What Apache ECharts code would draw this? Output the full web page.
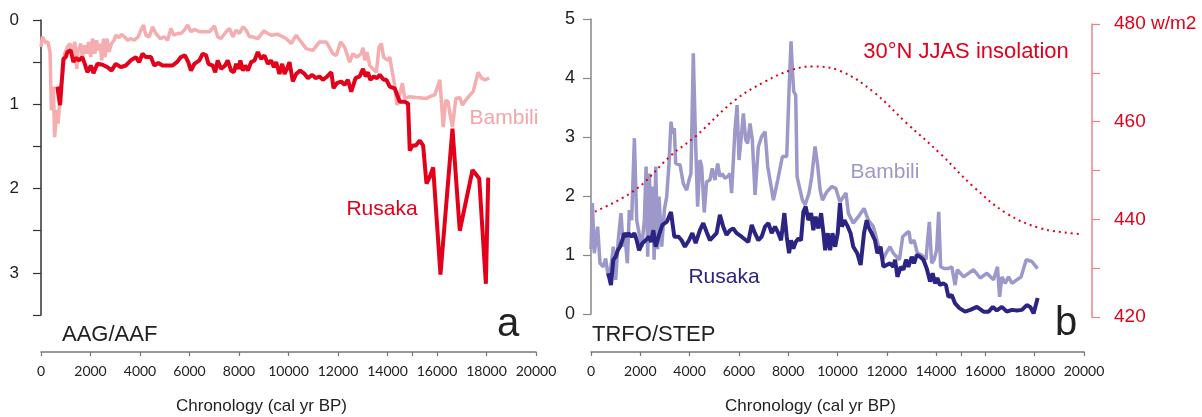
<!DOCTYPE html>
<html>
<head>
<meta charset="utf-8">
<script src="https://cdn.jsdelivr.net/npm/echarts@6/dist/echarts.min.js"></script>
<style>
    html, body { margin: 0; padding: 0; background: #fff; }
    #chart { width: 1202px; height: 417px; }
</style>
</head>
<body>
<div id="chart"></div>
<script>
// panel a: AAG/AAF (inverted axis)
var bambiliAYears = [0, 55, 190, 280, 365, 420, 500, 550, 635, 690, 800, 865, 960, 1065, 1175, 1270, 1365, 1445, 1500, 1605, 1670, 1770, 1850, 1920, 2010, 2080, 2175, 2240, 2320, 2390, 2455, 2525, 2590, 2660, 2750, 2845, 2955, 3020, 3155, 3250, 3380, 3500, 3630, 3765, 3925, 4035, 4145, 4235, 4370, 4510, 4640, 4820, 4980, 5115, 5250, 5360, 5520, 5655, 5790, 5925, 6060, 6195, 6400, 6600, 6805, 7005, 7140, 7275, 7480, 7615, 7750, 7885, 8020, 8155, 8290, 8425, 8560, 8760, 9005, 9165, 9300, 9570, 9905, 10110, 10310, 10510, 10715, 10985, 11255, 11525, 11795, 11930, 12105, 12265, 12470, 12605, 12765, 12940, 13010, 13090, 13170, 13280, 13415, 13550, 13660, 13750, 13845, 13930, 14020, 14090, 14195, 14290, 14385, 14465, 14520, 14600, 14695, 14900, 15170, 15575, 15775, 15910, 16115, 16250, 16355, 16450, 16520, 16625, 16760, 16920, 17030, 17165, 17330, 17460, 17665, 17800, 17935, 18110];
var bambiliAValues = [0.32, 0.20, 0.27, 0.26, 0.38, 1.07, 0.79, 1.39, 1.07, 1.23, 0.79, 0.67, 0.40, 0.32, 0.28, 0.42, 0.26, 0.58, 0.36, 0.28, 0.44, 0.30, 0.40, 0.26, 0.44, 0.22, 0.40, 0.24, 0.36, 0.28, 0.48, 0.22, 0.44, 0.22, 0.38, 0.28, 0.24, 0.18, 0.21, 0.17, 0.20, 0.24, 0.22, 0.24, 0.20, 0.12, 0.06, 0.18, 0.20, 0.08, 0.16, 0.22, 0.20, 0.24, 0.10, 0.18, 0.16, 0.16, 0.12, 0.06, 0.14, 0.11, 0.14, 0.14, 0.14, 0.07, 0.20, 0.22, 0.14, 0.10, 0.20, 0.12, 0.16, 0.08, 0.12, 0.20, 0.20, 0.22, 0.13, 0.16, 0.18, 0.17, 0.22, 0.28, 0.18, 0.26, 0.34, 0.36, 0.26, 0.26, 0.40, 0.42, 0.26, 0.32, 0.50, 0.40, 0.44, 0.40, 0.33, 0.48, 0.38, 0.54, 0.58, 0.62, 0.32, 0.28, 0.44, 0.46, 0.48, 0.44, 0.62, 0.77, 1.01, 0.99, 0.85, 0.75, 0.93, 0.91, 0.92, 0.93, 0.90, 0.89, 0.71, 1.27, 0.95, 0.97, 1.11, 1.27, 0.93, 0.92, 1.01, 0.95, 0.89, 0.85, 0.62, 0.69, 0.71, 0.69];

var rusakaAYears = [660, 770, 905, 1000, 1065, 1200, 1310, 1400, 1540, 1670, 1770, 1875, 2010, 2120, 2280, 2485, 2690, 2845, 3020, 3225, 3425, 3630, 3830, 3965, 4100, 4235, 4440, 4575, 4740, 4910, 5115, 5315, 5490, 5655, 5815, 5950, 6060, 6195, 6400, 6535, 6670, 6765, 6940, 7040, 7140, 7275, 7440, 7545, 7680, 7790, 7885, 7980, 8055, 8155, 8250, 8360, 8490, 8625, 8760, 8895, 9030, 9165, 9300, 9410, 9500, 9635, 9745, 9840, 9935, 10040, 10175, 10310, 10470, 10650, 10785, 10960, 11095, 11255, 11390, 11565, 11730, 11820, 11955, 12130, 12265, 12400, 12535, 12710, 12875, 13010, 13115, 13210, 13305, 13440, 13575, 13685, 13845, 13955, 14090, 14290, 14495, 14695, 14830, 14900, 15010, 15145, 15305, 15440, 15575, 15710, 15845, 16140, 16625, 16920, 17435, 17705, 17975, 18070];
var rusakaAValues = [0.79, 1.01, 0.46, 0.44, 0.38, 0.36, 0.50, 0.45, 0.48, 0.44, 0.52, 0.62, 0.54, 0.63, 0.52, 0.53, 0.56, 0.60, 0.52, 0.56, 0.54, 0.48, 0.44, 0.50, 0.40, 0.44, 0.44, 0.54, 0.51, 0.54, 0.54, 0.54, 0.50, 0.44, 0.42, 0.50, 0.60, 0.52, 0.48, 0.40, 0.42, 0.52, 0.54, 0.62, 0.48, 0.58, 0.54, 0.48, 0.60, 0.62, 0.52, 0.58, 0.48, 0.60, 0.54, 0.60, 0.50, 0.48, 0.38, 0.46, 0.42, 0.52, 0.48, 0.56, 0.50, 0.64, 0.52, 0.64, 0.58, 0.50, 0.73, 0.64, 0.60, 0.64, 0.69, 0.65, 0.69, 0.67, 0.71, 0.67, 0.62, 0.81, 0.75, 0.73, 0.77, 0.71, 0.85, 0.69, 0.67, 0.58, 0.67, 0.62, 0.71, 0.67, 0.69, 0.65, 0.71, 0.71, 0.79, 0.81, 0.97, 0.97, 0.99, 1.55, 1.49, 1.49, 1.43, 1.49, 1.94, 1.86, 1.75, 3.02, 1.29, 2.50, 1.78, 1.88, 3.13, 1.87];

// panel b: TRFO/STEP
var bambiliBYears = [0, 55, 135, 270, 365, 500, 595, 700, 810, 905, 1000, 1105, 1215, 1310, 1380, 1475, 1555, 1650, 1760, 1855, 1950, 2060, 2165, 2235, 2300, 2370, 2435, 2505, 2560, 2625, 2705, 2760, 2870, 2975, 3070, 3165, 3245, 3315, 3380, 3435, 3610, 3745, 3880, 3975, 4055, 4150, 4245, 4325, 4420, 4490, 4595, 4690, 4825, 4920, 5030, 5140, 5230, 5325, 5435, 5545, 5640, 5705, 5840, 5925, 6005, 6085, 6180, 6275, 6355, 6450, 6545, 6655, 6790, 6925, 7060, 7170, 7400, 7575, 7765, 7940, 8035, 8115, 8170, 8225, 8305, 8360, 8440, 8575, 8685, 8845, 8955, 9090, 9200, 9295, 9390, 9565, 9770, 9930, 10100, 10345, 10440, 10640, 10845, 11075, 11250, 11455, 11565, 11700, 11835, 11970, 12130, 12265, 12400, 12510, 12645, 12805, 12900, 12970, 13105, 13240, 13415, 13590, 13645, 13725, 13820, 13915, 14020, 14105, 14185, 14320, 14500, 14635, 14770, 14860, 15115, 15520, 15790, 16060, 16330, 16490, 16575, 16670, 16800, 16940, 17075, 17280, 17450, 17655, 17885, 18115];
var bambiliBValues = [1.10, 1.88, 1.03, 1.48, 0.86, 0.80, 0.94, 0.63, 0.80, 1.14, 0.58, 1.25, 1.71, 1.14, 1.31, 0.86, 1.76, 1.59, 2.98, 1.59, 1.37, 1.14, 1.59, 2.50, 0.97, 2.38, 1.31, 2.16, 0.92, 2.50, 1.10, 1.99, 1.14, 1.76, 1.99, 2.55, 3.26, 3.06, 3.15, 2.55, 2.53, 2.21, 2.10, 2.27, 2.38, 4.42, 2.89, 1.82, 2.61, 2.50, 1.72, 2.24, 2.27, 2.47, 2.27, 2.55, 2.33, 2.38, 2.30, 2.33, 2.38, 2.05, 3.12, 3.54, 2.61, 2.95, 3.40, 2.95, 2.89, 3.23, 2.95, 2.02, 2.84, 3.01, 3.09, 2.50, 1.93, 2.27, 2.67, 2.67, 3.80, 4.62, 4.14, 3.77, 3.71, 2.33, 2.30, 1.93, 1.85, 2.05, 2.33, 2.84, 2.50, 2.10, 1.93, 2.07, 2.16, 2.13, 1.90, 2.05, 1.71, 1.54, 1.65, 1.79, 1.59, 1.48, 1.31, 1.08, 0.92, 1.03, 1.14, 1.03, 0.97, 0.92, 1.31, 1.37, 1.40, 1.20, 1.25, 1.03, 1.00, 0.92, 1.20, 1.56, 0.86, 0.92, 1.08, 1.73, 0.80, 0.77, 0.77, 0.80, 0.49, 0.75, 0.63, 0.75, 0.61, 0.69, 0.58, 0.80, 0.29, 0.63, 0.52, 0.63, 0.52, 0.58, 0.63, 0.92, 0.89, 0.77];

var rusakaBYears = [700, 810, 905, 1000, 1085, 1175, 1270, 1350, 1445, 1510, 1650, 1760, 1855, 1950, 2085, 2220, 2355, 2435, 2530, 2625, 2760, 2895, 3070, 3245, 3380, 3545, 3675, 3810, 3975, 4110, 4245, 4420, 4555, 4690, 4825, 4960, 5095, 5230, 5365, 5500, 5640, 5770, 5905, 6110, 6380, 6520, 6650, 6790, 6925, 7060, 7195, 7330, 7465, 7600, 7710, 7845, 7940, 8035, 8115, 8210, 8305, 8415, 8520, 8615, 8710, 8820, 8930, 9020, 9115, 9225, 9335, 9430, 9500, 9605, 9700, 9795, 9905, 10010, 10100, 10180, 10280, 10420, 10530, 10640, 10800, 10940, 11075, 11185, 11250, 11385, 11520, 11615, 11750, 11860, 11995, 12130, 12265, 12335, 12430, 12565, 12675, 12780, 12875, 13010, 13105, 13215, 13350, 13485, 13620, 13755, 13860, 13955, 14050, 14155, 14290, 14400, 14500, 14635, 14770, 14945, 15175, 15385, 15655, 15925, 16130, 16305, 16465, 16670, 16870, 17075, 17280, 17480, 17680, 17820, 17955, 18120];
var rusakaBValues = [0.69, 0.49, 0.92, 0.97, 1.08, 1.14, 1.25, 1.37, 1.31, 1.37, 1.31, 1.37, 1.25, 1.08, 1.20, 1.25, 1.31, 1.22, 1.42, 1.14, 1.34, 1.51, 1.56, 1.73, 1.31, 1.31, 1.25, 1.14, 1.25, 1.37, 1.20, 1.42, 1.54, 1.39, 1.25, 1.31, 1.37, 1.68, 1.48, 1.34, 1.42, 1.45, 1.37, 1.31, 1.22, 1.51, 1.37, 1.25, 1.31, 1.48, 1.54, 1.37, 1.48, 1.37, 1.25, 1.71, 1.31, 1.03, 1.25, 1.11, 1.22, 1.28, 1.25, 1.73, 1.82, 1.59, 1.71, 1.42, 1.65, 1.45, 1.71, 1.37, 1.08, 1.37, 1.08, 1.37, 1.14, 1.37, 1.88, 1.48, 1.59, 1.48, 1.37, 1.14, 1.03, 0.83, 1.37, 1.59, 1.48, 1.37, 1.25, 1.03, 1.14, 0.80, 0.83, 0.86, 0.80, 0.92, 0.63, 0.80, 0.75, 0.92, 0.80, 0.97, 0.86, 1.00, 0.97, 0.92, 0.77, 0.55, 0.69, 0.52, 0.61, 0.49, 0.52, 0.49, 0.29, 0.32, 0.18, 0.10, 0.04, 0.07, 0.12, 0.04, 0.04, 0.12, 0.06, 0.12, 0.04, 0.07, 0.06, 0.07, 0.15, 0.12, 0.01, 0.27];

// 30N JJAS insolation (w/m2)
var insolYears = [160, 1785, 3270, 4220, 5840, 7060, 8140, 8955, 10100, 11455, 12805, 14160, 15510, 16865, 18215, 19565, 19905];
var insolValues = [441.6, 446.0, 453.2, 456.9, 464.4, 468.2, 470.6, 471.3, 470.4, 466.1, 459.7, 453.5, 446.7, 441.2, 438.2, 437.1, 437.0];

var xTicks = [0, 2000, 4000, 6000, 8000, 10000, 12000, 14000, 15000, 16000, 18000, 20000];

function zip(xs, ys) {
    return xs.map(function (x, i) { return [x, ys[i]]; });
}

var myChart = echarts.init(document.getElementById('chart'));

function xAxisOpt(gridIndex, offset) {
    return {
        type: 'value',
        gridIndex: gridIndex,
        min: 0,
        max: 20000,
        interval: 2000,
        offset: offset,
        name: 'Chronology (cal yr BP)',
        nameLocation: 'middle',
        nameGap: 46,
        nameTextStyle: {
            fontFamily: 'Liberation Sans',
            fontSize: 17,
            color: '#222',
            padding: [0, 54, 0, 0],
        },
        axisLine: { show: true, onZero: false, lineStyle: { color: '#777', width: 1.5 } },
        axisTick: { show: true, length: 4, customValues: xTicks, lineStyle: { color: '#777', width: 1.2 } },
        axisLabel: {
            fontFamily: 'Lato', fontSize: 14, color: '#222', margin: 12,
            formatter: function (v) { return String(v); },
        },
        splitLine: { show: false },
    };
}

var option = {
    animation: false,
    grid: [
        { left: 41, width: 495, top: 20, height: 295, outerBoundsMode: 'none' },
        { left: 591, width: 493, top: 19, height: 295, outerBoundsMode: 'none' },
        { left: 591, width: 493, top: 24, height: 293, outerBoundsMode: 'none' },
    ],
    xAxis: [
        xAxisOpt(0, 37),
        xAxisOpt(1, 38),
        { type: 'value', gridIndex: 2, min: 0, max: 20000, show: false },
    ],
    yAxis: [
        {
            type: 'value',
            gridIndex: 0,
            inverse: true,
            min: 0,
            max: 3.5,
            interval: 0.5,
            axisLine: { show: true, onZero: false, lineStyle: { color: '#333', width: 1.5 } },
            axisTick: { show: true, length: 8, lineStyle: { color: '#333', width: 1.2 } },
            axisLabel: {
                fontFamily: 'Liberation Sans', fontSize: 17, color: '#222', margin: 22,
                formatter: function (v) { return v % 1 === 0 ? String(v) : ''; },
            },
            splitLine: { show: false },
        },
        {
            type: 'value',
            gridIndex: 1,
            min: 0,
            max: 5,
            interval: 1,
            axisLine: { show: true, onZero: false, lineStyle: { color: '#888', width: 1.5 } },
            axisTick: { show: true, length: 8, lineStyle: { color: '#888', width: 1.2 } },
            axisLabel: { fontFamily: 'Liberation Sans', fontSize: 18, color: '#222', margin: 16 },
            splitLine: { show: false },
        },
        {
            type: 'value',
            gridIndex: 2,
            position: 'right',
            offset: 8,
            min: 420,
            max: 480,
            interval: 10,
            axisLine: { show: true, onZero: false, lineStyle: { color: '#ef8088', width: 1.5 } },
            axisTick: { show: true, length: 8, lineStyle: { color: '#ef8088', width: 1.2 } },
            axisLabel: {
                fontFamily: 'Liberation Sans', fontSize: 19, color: '#e3001b', margin: 22,
                formatter: function (v) {
                    if (v === 480) return '480 w/m2';
                    return v % 20 === 0 ? String(v) : '';
                },
            },
            splitLine: { show: false },
        },
    ],
    series: [
        {
            name: 'Bambili a', type: 'line', xAxisIndex: 0, yAxisIndex: 0,
            data: zip(bambiliAYears, bambiliAValues), symbol: 'none',
            lineStyle: { color: '#f5adb0', width: 3.5 },
        },
        {
            name: 'Rusaka a', type: 'line', xAxisIndex: 0, yAxisIndex: 0,
            data: zip(rusakaAYears, rusakaAValues), symbol: 'none',
            lineStyle: { color: '#e3001b', width: 4 },
        },
        {
            name: 'Bambili b', type: 'line', xAxisIndex: 1, yAxisIndex: 1,
            data: zip(bambiliBYears, bambiliBValues), symbol: 'none',
            lineStyle: { color: '#9c98c9', width: 3.5 },
        },
        {
            name: 'Rusaka b', type: 'line', xAxisIndex: 1, yAxisIndex: 1,
            data: zip(rusakaBYears, rusakaBValues), symbol: 'none',
            lineStyle: { color: '#2c2482', width: 4 },
        },
        {
            name: 'Insolation', type: 'line', xAxisIndex: 2, yAxisIndex: 2,
            data: zip(insolYears, insolValues), symbol: 'none', smooth: 0.4,
            lineStyle: { color: '#e3001b', width: 2, type: [2, 4] },
        },
    ],
    graphic: [
        { type: 'text', x: 62, y: 335, style: { text: 'AAG/AAF', fill: '#222', font: '22px "Liberation Sans"', textAlign: 'left', textVerticalAlign: 'middle' } },
        { type: 'text', x: 508, y: 325, style: { text: 'a', fill: '#222', font: '40px "Liberation Sans"', textAlign: 'center', textVerticalAlign: 'middle' } },
        { type: 'text', x: 592, y: 335, style: { text: 'TRFO/STEP', fill: '#222', font: '22px "Liberation Sans"', textAlign: 'left', textVerticalAlign: 'middle' } },
        { type: 'text', x: 1066, y: 324, style: { text: 'b', fill: '#222', font: '40px "Liberation Sans"', textAlign: 'center', textVerticalAlign: 'middle' } },
        { type: 'text', x: 504, y: 118, style: { text: 'Bambili', fill: '#f5a4a8', font: '21px "Liberation Sans"', textAlign: 'center', textVerticalAlign: 'middle' } },
        { type: 'text', x: 382, y: 209, style: { text: 'Rusaka', fill: '#e3001b', font: '21px "Liberation Sans"', textAlign: 'center', textVerticalAlign: 'middle' } },
        { type: 'text', x: 885, y: 172, style: { text: 'Bambili', fill: '#9c98c9', font: '21px "Liberation Sans"', textAlign: 'center', textVerticalAlign: 'middle' } },
        { type: 'text', x: 724, y: 277, style: { text: 'Rusaka', fill: '#2c2482', font: '21px "Liberation Sans"', textAlign: 'center', textVerticalAlign: 'middle' } },
        { type: 'text', x: 966, y: 52, style: { text: '30°N JJAS insolation', fill: '#e3001b', font: '22px "Liberation Sans"', textAlign: 'center', textVerticalAlign: 'middle' } },
    ],
};

myChart.setOption(option, true);
</script>
</body>
</html>
